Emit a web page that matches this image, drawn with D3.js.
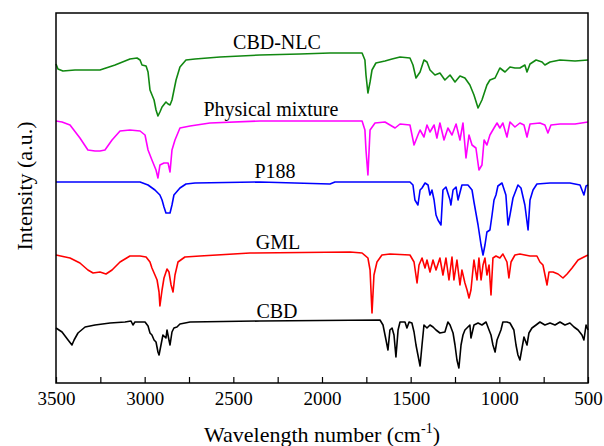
<!DOCTYPE html>
<html>
<head>
<meta charset="utf-8">
<script src="https://cdn.jsdelivr.net/npm/d3@7"></script>
<style>
  body { margin: 0; background: #fff; }
  svg text { font-family: "Liberation Serif", "DejaVu Serif", serif; }
</style>
</head>
<body>
<div id="chart-area"></div>
<script>
// wavenumber (cm-1) and intensity (a.u., offset per trace)
const wnNLC = [3500,3489,3461,3393,3252,3167,3083,3043,3026,3015,2992,2981,2970,2947,2936,2925,2914,2902,2880,2868,2857,2846,2823,2801,2767,2716,2575,2350,2124,1955,1774,1758,1752,1741,1729,1718,1696,1645,1605,1560,1504,1487,1470,1447,1425,1408,1391,1363,1335,1307,1278,1250,1222,1194,1166,1143,1120,1098,1070,1053,1024,997,968,940,912,884,856,844,827,793,759,743,714,658,573,500];
const intNLC = [319,314,312,313,313,318,324,325,323,318,317,311,293,283,273,267,271,276,281,279,278,283,303,316,323,324,326,328,329,330,330,323,308,290,301,313,320,322,324,326,325,318,305,311,323,321,313,308,310,303,308,301,307,305,298,288,275,283,298,303,305,315,311,316,315,315,318,311,319,323,321,318,321,323,322,323];

const wnPM = [3500,3466,3421,3365,3320,3280,3252,3224,3184,3139,3083,3026,2998,2981,2959,2936,2925,2914,2891,2868,2857,2846,2829,2801,2744,2632,2350,2124,1774,1758,1752,1741,1729,1701,1645,1588,1560,1504,1481,1459,1447,1425,1408,1391,1368,1352,1335,1312,1290,1267,1244,1222,1205,1188,1171,1154,1132,1115,1098,1086,1070,1053,1030,1013,997,980,957,940,912,884,861,844,827,771,743,726,709,658,573,500];
const intPM = [262,261,258,245,233,232,232,233,243,252,253,252,248,233,223,213,205,218,220,220,211,233,243,255,257,260,262,262,262,253,233,208,253,260,261,255,259,258,238,248,253,246,258,251,258,245,260,243,255,248,259,243,260,225,248,238,235,213,218,243,238,248,255,260,255,260,246,261,256,260,258,246,259,260,258,250,258,259,259,261];

const wnP188 = [3500,3026,2981,2942,2914,2902,2891,2880,2857,2846,2835,2801,2767,2716,2350,1955,1927,1504,1487,1476,1459,1447,1436,1419,1402,1391,1380,1368,1357,1346,1329,1318,1301,1278,1273,1261,1244,1233,1211,1177,1154,1143,1132,1120,1103,1092,1081,1070,1053,1041,1030,1019,1008,985,963,951,940,923,895,878,856,838,827,810,788,714,602,545,523,511,500];
const intP188 = [201,201,198,193,188,183,176,170,170,178,188,195,199,200,201,199,201,201,198,183,178,193,195,200,198,188,193,183,168,163,158,193,196,183,178,193,196,183,198,198,193,181,170,158,138,128,138,151,153,168,183,188,197,200,188,158,168,185,198,195,178,153,183,193,199,200,200,198,188,197,198];

const wnGML = [3500,3421,3365,3320,3291,3252,3218,3184,3139,3083,3026,2992,2970,2959,2942,2930,2919,2914,2902,2891,2874,2863,2851,2840,2829,2812,2773,2688,2406,1842,1774,1741,1729,1718,1707,1690,1662,1617,1504,1481,1464,1453,1436,1419,1408,1391,1374,1357,1335,1318,1301,1284,1267,1256,1239,1222,1211,1194,1182,1171,1160,1149,1143,1126,1115,1103,1092,1081,1070,1058,1047,1036,1019,997,980,957,946,934,912,884,856,827,788,771,754,731,720,697,669,641,618,590,556,523,500];
const intGML = [128,125,120,113,110,111,109,113,121,127,127,126,121,115,108,103,91,77,93,105,114,111,98,91,108,121,126,127,130,131,130,125,113,70,108,121,128,129,128,121,100,118,125,115,123,111,123,113,125,108,125,103,126,103,123,98,113,100,93,85,93,113,123,103,125,103,118,125,108,118,88,125,127,125,129,121,105,121,128,129,128,127,127,121,118,98,111,111,109,105,109,115,123,126,128];

const wnCBD = [3500,3466,3432,3410,3398,3376,3336,3280,3195,3111,3077,3066,3055,2998,2981,2970,2959,2947,2936,2925,2919,2908,2897,2880,2874,2863,2857,2846,2835,2818,2801,2744,2350,1673,1656,1639,1628,1617,1605,1594,1583,1571,1560,1532,1521,1509,1493,1481,1470,1459,1447,1436,1425,1408,1391,1374,1357,1335,1307,1290,1278,1261,1250,1239,1228,1216,1205,1194,1166,1160,1143,1120,1098,1075,1058,1047,1036,1024,1013,1002,991,980,957,940,918,906,895,884,872,861,844,833,816,793,771,743,714,686,658,630,602,579,556,534,523,511,500];
const intCBD = [55,51,43,38,43,50,56,58,60,61,62,58,61,61,57,50,48,43,41,31,28,38,48,45,53,43,38,51,55,56,59,61,62,63,58,43,33,53,55,48,26,53,61,61,55,61,60,51,38,28,17,38,58,55,58,56,53,50,51,61,58,50,38,23,15,38,48,53,58,45,58,60,58,61,53,48,38,31,43,48,53,61,61,60,53,38,28,23,35,46,38,50,55,58,61,58,60,58,61,58,60,56,53,48,43,58,53];

const seriesNames = ["CBD-NLC", "Physical mixture", "P188", "GML", "CBD"];
const seriesColors = ["#118811", "#ff00ff", "#0000ff", "#ff0000", "#000000"];
const xTicks = [3500, 3000, 2500, 2000, 1500, 1000, 500];

const width = 604;
const height = 446;
const margin = { left: 56, right: 16, top: 13, bottom: 63 };
const chartWidth = width - margin.left - margin.right;
const chartHeight = height - margin.top - margin.bottom;
const serif = '"Liberation Serif", "DejaVu Serif", serif';

const svg = d3.select('#chart-area')
    .append('svg')
    .attr('width', width)
    .attr('height', height);

const g = svg.append('g')
    .attr('transform', `translate(${margin.left}, ${margin.top})`);

const x = d3.scaleLinear()
    .domain([3500, 500])
    .range([0, chartWidth]);

const y = d3.scaleLinear()
    .domain([0, 370])
    .range([chartHeight, 0]);

const traces = [
    [wnNLC, intNLC],
    [wnPM, intPM],
    [wnP188, intP188],
    [wnGML, intGML],
    [wnCBD, intCBD]
].map((t, i) => ({
    name: seriesNames[i],
    color: seriesColors[i],
    points: t[0].map((w, j) => ({ wn: w, v: t[1][j] }))
}));

const line = d3.line()
    .x(d => x(d.wn))
    .y(d => y(d.v));

g.selectAll('path.trace')
    .data(traces)
    .enter()
    .append('path')
    .attr('class', 'trace')
    .attr('d', d => line(d.points))
    .attr('fill', 'none')
    .attr('stroke', d => d.color)
    .attr('stroke-width', 1.6)
    .attr('stroke-linejoin', 'round');

// trace labels (placed in data units)
const labelWn = [2254, 2288, 2265, 2248, 2254];
const labelV = [334, 267, 205, 134, 65];
g.selectAll('text.label')
    .data(traces)
    .enter()
    .append('text')
    .attr('class', 'label')
    .attr('x', (d, i) => x(labelWn[i]))
    .attr('y', (d, i) => y(labelV[i]))
    .attr('text-anchor', 'middle')
    .attr('font-family', serif)
    .attr('font-size', '20px')
    .style('fill', '#000')
    .text(d => d.name);

// frame
g.append('rect')
    .attr('width', chartWidth)
    .attr('height', chartHeight)
    .attr('fill', 'none')
    .attr('stroke', '#000')
    .attr('stroke-width', 1.5);

const xAxis = d3.axisBottom(x)
    .tickValues(d3.range(500, 3501, 250))
    .tickSizeInner(-6)
    .tickSizeOuter(0)
    .tickFormat(d => xTicks.includes(d) ? d : "");

const ax = g.append('g')
    .attr('class', 'x axis')
    .attr('transform', `translate(0, ${chartHeight})`)
    .call(xAxis)
    .attr('font-family', serif);

ax.select('.domain').remove();
ax.selectAll('.tick line')
    .attr('stroke', '#000')
    .attr('stroke-width', 1.2);
ax.selectAll('.tick text')
    .attr('y', 22)
    .attr('dy', 0)
    .attr('font-size', '19px')
    .style('fill', '#000');

// axis titles
const xt = svg.append('text')
    .attr('x', margin.left + chartWidth / 2)
    .attr('y', 442)
    .attr('text-anchor', 'middle')
    .attr('font-family', serif)
    .attr('font-size', '22px')
    .style('fill', '#000');
xt.append('tspan').text('Wavelength number (cm');
xt.append('tspan').attr('font-size', '14px').attr('dy', -9).text('-1');
xt.append('tspan').attr('dy', 9).text(')');

svg.append('text')
    .attr('transform', 'translate(32, 186) rotate(-90)')
    .attr('text-anchor', 'middle')
    .attr('font-family', serif)
    .attr('font-size', '22px')
    .style('fill', '#000')
    .text('Intensity (a.u.)');
</script>
</body>
</html>
